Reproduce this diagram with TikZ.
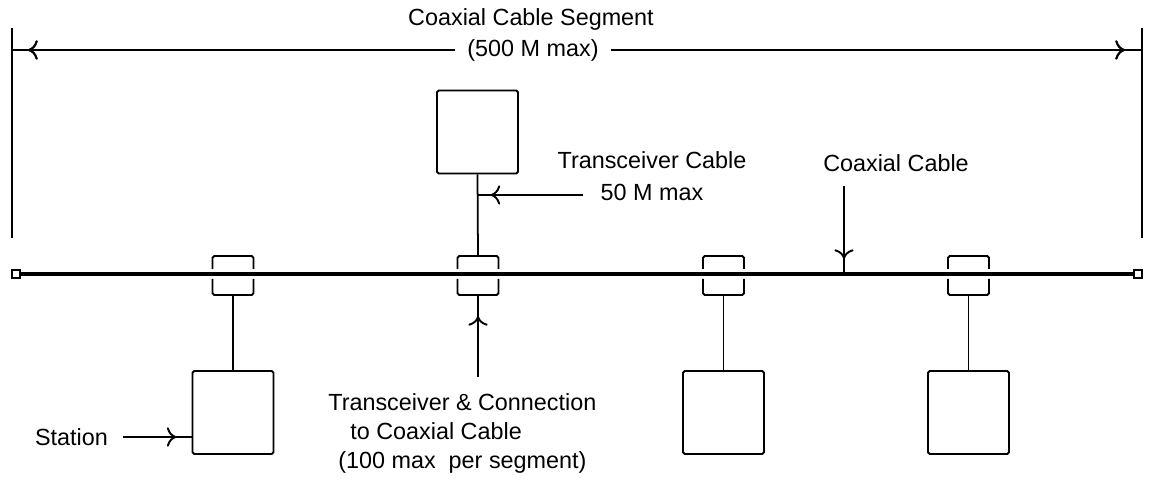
\documentclass[tikz,border=0pt]{standalone}
\usepackage{fontspec}
\setmainfont{Liberation Sans}
\usetikzlibrary{arrows.meta,calc,decorations.markings}
\def\measbox #1;{\useasboundingbox #1;}

\begin{document}
\begin{tikzpicture}[
    every node/.style={font=\fontsize{13.3pt}{16.5pt}\selectfont},
    station/.style={draw,line width=1.1pt,rounded corners=1pt,minimum width=1.62cm,minimum height=1.66cm},
    term/.style={draw,line width=1.4pt,minimum size=0.17cm,inner sep=0pt},
    bracket/.style={line width=1.1pt,rounded corners=1pt},
    conn/.style={line width=1pt},
    midtip/.style={postaction={decorate},decoration={markings,
        mark=at position #1 with {\arrow{Computer Modern Rightarrow[length=5.5pt,width=11pt,line width=1.1pt]}}}},
    backtip/.style={postaction={decorate},decoration={markings,
        mark=at position #1 with {\arrowreversed{Computer Modern Rightarrow[length=5.5pt,width=11pt,line width=1.1pt]}}}}
]
\measbox (0,0) rectangle (22.98,9.74);

    % segment length
    \coordinate (segL) at (0.24,9.18);
    \coordinate (segR) at (22.84,9.18);
    \draw[line width=1.1pt] (segL) -- ++(0,-4.2);
    \draw[line width=1.1pt] (segR) -- ++(0,-4.2);
    \draw[line width=1.5pt,backtip=0.32cm,midtip=-0.34cm] ($(segL)+(0,-0.44)$) -- ($(segR)+(0,-0.44)$);
    \node (seg) at (10.62,9.36) {Coaxial Cable Segment};
    \node[fill=white,inner xsep=0.24cm] (segmax) at (10.66,8.74) {(500 M max)};

    % the coaxial cable
    \node[term] (tL) at (0.32,4.26) {};
    \node[term] (tR) at (22.76,4.26) {};
    \draw[line width=2.4pt] (tL.east) -- (tR.west);

    \foreach \i/\x in {1/4.66,2/9.56,3/14.47,4/19.37}{
        \coordinate (tap\i) at (\x,4.26);
        \draw[bracket] ($(tap\i)+(-0.41,0.1)$) -- ++(0,0.26) -- ++(0.82,0) -- ++(0,-0.26);
        \draw[bracket] ($(tap\i)+(-0.41,-0.1)$) -- ++(0,-0.32) -- ++(0.82,0) -- ++(0,0.32);
        \coordinate (tapup\i) at ($(tap\i)+(0,0.36)$);
        \coordinate (tapdn\i) at ($(tap\i)+(0,-0.42)$);
    }

    % stations
    \node[station] (st1) at (4.66,1.49) {};
    \node[station] (st2) at (9.55,7.1) {};
    \node[station] (st3) at (14.47,1.49) {};
    \node[station] (st4) at (19.37,1.49) {};
    \draw[conn] (st1.north) -- (tapdn1);
    \draw[conn] (st2.south) -- (tapup2);
    \draw[conn] (st3.north) -- (tapdn3);
    \draw[conn] (st4.north) -- (tapdn4);

    % labels
    \node[align=center] (tcable) at (13.04,6.22) {Transceiver Cable\\[1.5pt]50 M max};
    \coordinate (tcfrom) at (11.66,5.84);
    \draw[conn,midtip=-0.26cm] (tcfrom) -- (tcfrom -| st2);

    \node (coax) at (17.92,6.48) {Coaxial Cable};
    \coordinate (coaxfrom) at (16.88,6.02);
    \draw[conn,midtip=-0.3cm] (coaxfrom) -- (coaxfrom |- tap1);

    \node (stat) at (1.43,1.0) {Station};
    \coordinate (statfrom) at (2.46,1.0);
    \draw[conn,midtip=-0.3cm] (statfrom) -- (statfrom -| st1.west);

    \node[align=left,anchor=west,inner sep=0pt] (tconn) at (6.56,1.08) {Transceiver \& Connection\\\hspace{0.44cm}to Coaxial Cable\\\hspace{0.2cm}(100 max\ \ per segment)};
    \coordinate (tconfrom) at (9.56,2.2);
    \draw[conn,midtip=-0.42cm] (tconfrom) -- (tapdn2);

\end{tikzpicture}
\end{document}
